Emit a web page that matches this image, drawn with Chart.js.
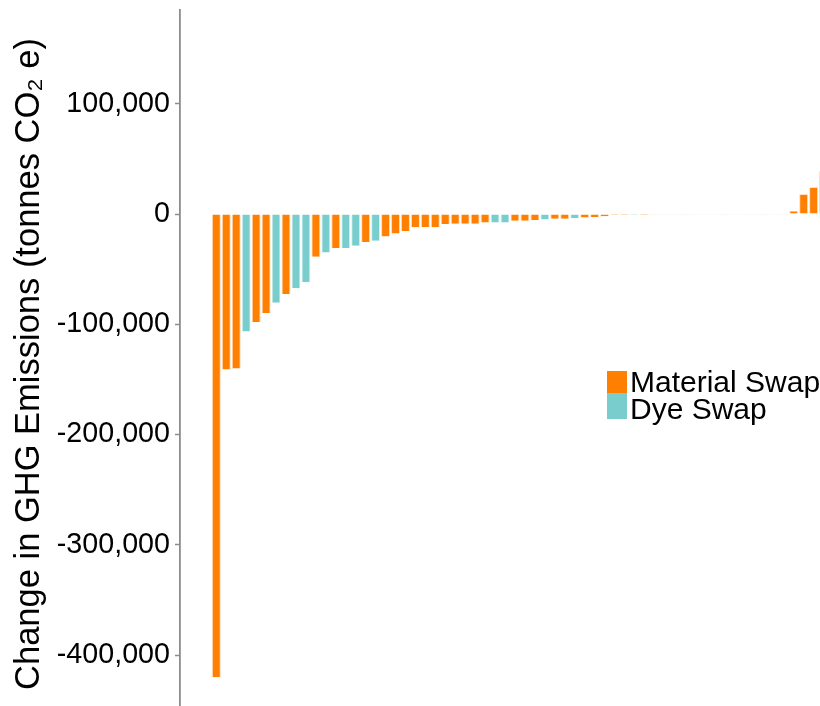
<!DOCTYPE html>
<html>
<head>
<meta charset="utf-8">
<script src="https://cdn.jsdelivr.net/npm/chart.js@4/dist/chart.umd.min.js"></script>
<style>
  html, body { margin: 0; padding: 0; background: #fff; width: 820px; height: 706px; overflow: hidden; }
  #wrap { position: absolute; left: 0; top: 0; width: 860px; height: 718px; }
  #legend { position: absolute; left: 0; top: 0; font-family: "Liberation Sans", Arial, sans-serif; font-size: 30px; color: #000; }
  .sw { position: absolute; width: 20px; }
  .lt { position: absolute; line-height: 30px; white-space: nowrap; }
</style>
</head>
<body>
<div id="wrap"><canvas id="c" width="860" height="718"></canvas></div>
<div id="legend"></div>
<script>
// Rank of each product swap (sorted by change in emissions)
const ranks = [1,2,3,4,5,6,7,8,9,10,11,12,13,14,15,16,17,18,19,20,21,22,23,24,25,26,27,28,29,30,31,32,33,34,35,36,37,38,39,40,41,42,43,44,45,46,47,48,49,50,51,52,53,54,55,56,57,58,59,60,61,62];
// Change in GHG emissions (tonnes CO2e); null where the swap belongs to the other series
const materialSwap = [-420000,-141000,-140000,null,-98000,-89800,null,-72600,null,null,-38700,null,-30900,null,null,-25400,null,-20300,-17600,-15500,-12100,-11800,-11800,-9100,-8800,-8800,-8800,-7600,null,null,-6100,-6100,-5500,null,-4300,-4300,null,-3100,-2700,-2000,-1000,-700,null,-500,-250,-150,-120,-100,-90,-80,-70,-60,-50,-40,-30,-20,-10,-5,2400,17600,24000,38700];
const dyeSwap = [null,null,null,-106500,null,null,-80500,null,-67200,-61700,null,-34800,null,-30900,-28800,null,-24200,null,null,null,null,null,null,null,null,null,null,null,-7600,-7600,null,null,null,-4900,null,null,-3700,null,null,null,null,null,-600,null,null,null,null,null,null,null,null,null,null,null,null,null,null,null,null,null,null,null];
const yTicks = [100000, 0, -100000, -200000, -300000, -400000];
const seriesNames = ["Material Swap", "Dye Swap"];

const ORANGE = "#FF7F00", TEAL = "#79CDCD";
const toPts = arr => ranks.map((r, i) => ({x: r, y: arr[i]})).filter(p => p.y !== null);
const paleIfTiny = base => ctx => (ctx.raw && Math.abs(ctx.raw.y) < 300) ? "#efe4de" : base;

const chart = new Chart(document.getElementById("c"), {
  type: "bar",
  data: {
    datasets: [
      { label: seriesNames[0], data: toPts(materialSwap), backgroundColor: paleIfTiny(ORANGE), borderColor: "rgba(255,190,130,0.6)", borderWidth: {left: 1, right: 1}, borderSkipped: false },
      { label: seriesNames[1], data: toPts(dyeSwap), backgroundColor: paleIfTiny(TEAL), borderColor: "rgba(190,235,235,0.6)", borderWidth: {left: 1, right: 1}, borderSkipped: false }
    ]
  },
  options: {
    responsive: false,
    animation: false,
    devicePixelRatio: 1,
    layout: { padding: { top: 10, right: 0, bottom: 0, left: 0 } },
    datasets: { bar: { grouped: false, categoryPercentage: 1, barPercentage: 0.9, minBarLength: 1 } },
    plugins: { legend: { display: false }, tooltip: { enabled: false } },
    scales: {
      x: { type: "linear", display: false, offset: false, min: -2.65, max: 65.66, grid: { offset: false } },
      y: {
        min: -457000, max: 185000,
        afterBuildTicks: s => { s.ticks = yTicks.map(v => ({value: v})); },
        afterFit: s => { s.width = 180; s.paddingTop = 0; s.paddingBottom = 0; },
        ticks: {
          color: "#000",
          padding: 5,
          font: { family: "'Liberation Sans', Arial, sans-serif", size: 28.7 },
          callback: v => v.toLocaleString("en-US")
        },
        grid: { drawOnChartArea: false, drawTicks: true, tickLength: 5, tickColor: "#8c8c8c", tickWidth: 1.5 },
        border: { display: true, color: "#8c8c8c", width: 1.8 },
        title: {
          display: true,
          text: "Change in GHG Emissions (tonnes CO\u2082 e)",
          color: "#000",
          font: { family: "'Liberation Sans', Arial, sans-serif", size: 34.5, lineHeight: 1.2 },
          padding: { top: 9, bottom: 0 }
        }
      }
    }
  }
});

// Legend built from the chart's datasets
const lg = document.getElementById("legend");
const rows = [ {sq: [371, 22], base: 393}, {sq: [393, 26], base: 420} ];
chart.data.datasets.forEach((ds, i) => {
  const sq = document.createElement("div");
  sq.className = "sw";
  sq.style.left = "607px"; sq.style.top = rows[i].sq[0] + "px"; sq.style.height = rows[i].sq[1] + "px";
  sq.style.background = i === 0 ? ORANGE : TEAL;
  lg.appendChild(sq);
  const t = document.createElement("div");
  t.className = "lt";
  t.textContent = ds.label;
  t.style.left = "630px";
  t.style.top = (rows[i].base - 26) + "px";
  lg.appendChild(t);
});
</script>
</body>
</html>
